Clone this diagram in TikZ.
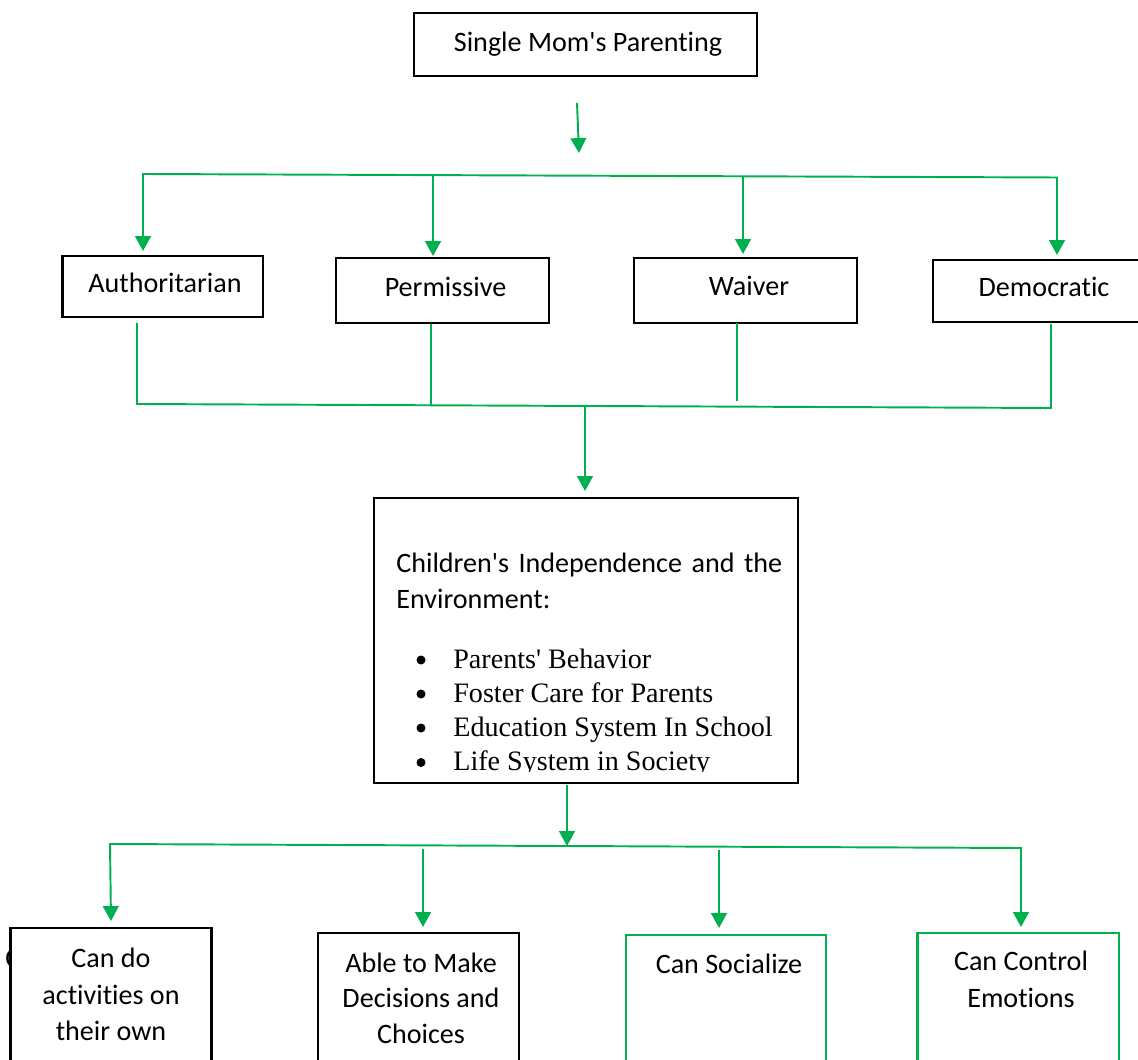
\documentclass[tikz,border=0pt]{standalone}
\usepackage{fontspec}
\setmainfont{Carlito}
\newfontfamily\carl{Carlito}[Ligatures={NoCommon,NoRare,NoDiscretionary}]
\newfontfamily\tnr{Liberation Serif}
\usetikzlibrary{arrows.meta}
\definecolor{ogreen}{RGB}{0,176,80}
\begin{document}
\begin{tikzpicture}[x=0.02cm,y=-0.02cm,
  box/.style={draw=black,line width=1.3pt,fill=white,inner sep=0pt,rectangle},
  gbox/.style={draw=ogreen,line width=1.3pt,fill=white,inner sep=0pt,rectangle},
  lbl/.style={anchor=base,inner sep=0pt,font=\carl\fontsize{16}{20}\selectfont},
  bul/.style={circle,fill=black,inner sep=0pt,minimum size=0.18cm},
  conn/.style={draw=ogreen,line width=1.1pt,line join=miter},
  tip/.tip={Triangle[width=9pt,length=8.5pt]},
  arr/.style={conn,-tip},
  arrboth/.style={conn,tip-tip}]
\clip (0,0) rectangle (1138,1060);
\fill[white] (0,0) rectangle (1138,1060);

% top box
\node[box,minimum width=6.86cm,minimum height=1.26cm] (top) at (585.5,44.5) {};
\node[lbl] (toptxt) at (588,52) {Single Mom's Parenting};
\coordinate (a0) at (577,103);
\coordinate (a1) at (579,153);
\draw[arr] (a0) -- (a1);

% style boxes
\node[box,minimum width=4.01cm,minimum height=1.22cm] (auth) at (162.75,286.5) {};
\node[lbl] at (165,293) {Authoritarian};
\node[box,minimum width=4.26cm,minimum height=1.30cm] (perm) at (442.5,290.5) {};
\node[lbl] at (445.5,297) {Permissive};
\node[box,minimum width=4.46cm,minimum height=1.30cm] (waiv) at (745.5,290.5) {};
\node[lbl] at (749,296) {Waiver};
\node[box,minimum width=4.34cm,minimum height=1.24cm] (demo) at (1041.5,291) {};
\node[lbl] at (1044,297) {Democratic};

% top bus
\coordinate (tbL) at (143,174);
\coordinate (tbR) at (1057,177.5);
\draw[arrboth] (143,251) -- (tbL) -- (tbR) -- (1057,255);
\draw[arr] (433,175.5) -- (433,256);
\draw[arr] (743,176.5) -- (743,254);

% lower bus
\coordinate (lbL) at (137,404);
\coordinate (lbR) at (1051,408);
\draw[conn] (137,323) -- (lbL) -- (lbR) -- (1051,324);
\draw[conn] (431,324) -- (431,405.5);
\draw[conn] (737,323) -- (737,401);
\coordinate (m0) at (585,407);
\coordinate (m1) at (585,491);
\draw[arr] (m0) -- (m1);

% middle box
\node[box,minimum width=8.48cm,minimum height=5.70cm] (mid) at (586,640.5) {};
\begin{scope}
\clip (374,498) rectangle (798,771);
\node[lbl,anchor=base west] at (396,572) {\makebox[7.72cm][s]{Children's Independence and the}};
\node[lbl,anchor=base west] at (396,608) {Environment:};
\node[bul] at (421,660) {};
\node[lbl,anchor=base west] at (453,668) {\tnr Parents' Behavior};
\node[bul] at (421,694) {};
\node[lbl,anchor=base west] at (453,702) {\tnr Foster Care for Parents};
\node[bul] at (421,728) {};
\node[lbl,anchor=base west] at (453,736) {\tnr Education System In School};
\node[bul] at (421,762.5) {};
\node[lbl,anchor=base west] at (453,770) {\tnr Life System in Society};
\end{scope}

% bottom bus
\coordinate (b0) at (567,785);
\coordinate (b1) at (567,846);
\draw[arr] (b0) -- (b1);
\coordinate (bbL) at (110,844);
\coordinate (bbR) at (1021,848);
\draw[arrboth] (111,921) -- (bbL) -- (bbR) -- (1021,927);
\draw[arr] (423,849) -- (423,927);
\draw[arr] (719,849.5) -- (719,928);

% bottom boxes
\node[lbl,anchor=base west] at (5,967) {C};
\node[box,minimum width=4.02cm,minimum height=3.44cm] (r1) at (111,1014) {};
\node[lbl] at (111,967) {Can do};
\node[lbl] at (111,1004) {activities on};
\node[lbl] at (111,1040) {their own};
\node[box,minimum width=4.02cm,minimum height=3.34cm] (r2) at (418.5,1016.5) {};
\node[lbl] at (421,972) {Able to Make};
\node[lbl] at (421,1007) {Decisions and};
\node[lbl] at (421,1043) {Choices};
\node[gbox,minimum width=4.00cm,minimum height=3.30cm] (r3) at (726,1017.5) {};
\node[lbl] at (729,973) {Can Socialize};
\node[gbox,minimum width=4.03cm,minimum height=3.34cm] (r4) at (1018.25,1016.5) {};
\node[lbl] at (1021,970) {Can Control};
\node[lbl] at (1021,1007) {Emotions};
\end{tikzpicture}
\end{document}
